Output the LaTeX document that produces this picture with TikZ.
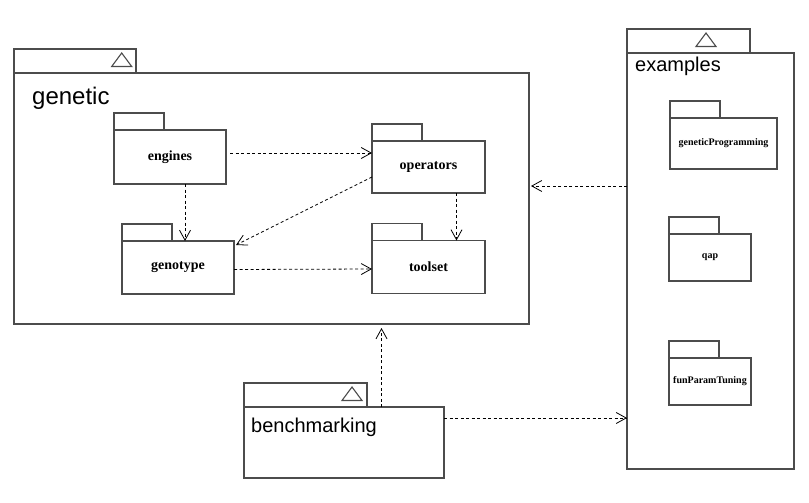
\documentclass[tikz,border=0pt]{standalone}
\usepackage{fontspec}
\setmainfont{Liberation Serif}
\newfontfamily\umlsans{Liberation Sans}
\usetikzlibrary{arrows.meta}

% triangle in the tab of a big package
\newcommand{\pkgmark}[2]{\draw[pkgline] (#1.south east) ++(#2-10,-6.5) -- ++(20,0) -- ++(-10,-13.5) -- cycle;}

\begin{document}
\begin{tikzpicture}[x=1pt,y=-1pt,>={Straight Barb[length=10pt,width=11pt]}]
		\tikzstyle{pkgline}=[draw=black!70,line width=1.1pt]
		\tikzstyle{pkg}=[pkgline,fill=none,outer sep=0pt,inner sep=0pt,font=\bfseries\fontsize{14}{16}\selectfont]
		\tikzstyle{smallpkg}=[pkg,font=\bfseries\fontsize{10}{12}\selectfont]
		\tikzstyle{tab}=[pkg,anchor=south west]
		\tikzstyle{pkgtitle}=[anchor=base west,inner sep=0pt,font=\umlsans]
		\tikzstyle{dep}=[->,draw=black,line width=0.8pt,dash pattern=on 3pt off 2.5pt]
		
		\useasboundingbox (0,0) rectangle (809,503);
		
		% genetic
		\node[pkg,minimum width=515,minimum height=251] (genetic) at (271.5,198.5) {};
		\node[tab,minimum width=122,minimum height=24] (genetictab) at (genetic.north west) {};
		\pkgmark{genetictab}{-14.3}
		\node[pkgtitle,font=\umlsans\fontsize{24}{28}\selectfont] (genetictitle) at (32,105) {genetic};
		
		\node[pkg,minimum width=112,minimum height=54] (engines) at (170,157) {engines};
		\node[tab,minimum width=50,minimum height=17] (enginestab) at (engines.north west) {};
		\node[pkg,minimum width=113,minimum height=52] (operators) at (428.5,167) {operators};
		\node[tab,minimum width=50,minimum height=17] (operatorstab) at (operators.north west) {};
		\node[pkg,minimum width=112,minimum height=53] (genotype) at (178,267.5) {genotype};
		\node[tab,minimum width=50,minimum height=17] (genotypetab) at (genotype.north west) {};
		\node[pkg,minimum width=113,minimum height=53] (toolset) at (428.5,267) {toolset};
		\node[tab,minimum width=50,minimum height=17] (toolsettab) at (toolset.north west) {};
		
		% examples
		\node[pkg,minimum width=167,minimum height=416] (examples) at (710.5,261) {};
		\node[tab,minimum width=123,minimum height=24] (examplestab) at (examples.north west) {};
		\pkgmark{examplestab}{-44}
		\node[pkgtitle,font=\umlsans\fontsize{20}{24}\selectfont] (examplestitle) at (635,72) {examples};
		
		\node[smallpkg,minimum width=107,minimum height=51] (geneticProgramming) at (723.5,143.5) {geneticProgramming};
		\node[tab,minimum width=50,minimum height=17] (geneticProgrammingtab) at (geneticProgramming.north west) {};
		\node[smallpkg,minimum width=82,minimum height=47] (qap) at (710,257.5) {qap};
		\node[tab,minimum width=50,minimum height=17] (qaptab) at (qap.north west) {};
		\node[smallpkg,minimum width=82,minimum height=47] (funParamTuning) at (710,381.5) {funParamTuning};
		\node[tab,minimum width=50,minimum height=17] (funParamTuningtab) at (funParamTuning.north west) {};
		
		% benchmarking
		\node[pkg,minimum width=200,minimum height=71] (benchmarking) at (344,442.5) {};
		\node[tab,minimum width=123,minimum height=24] (benchmarkingtab) at (benchmarking.north west) {};
		\pkgmark{benchmarkingtab}{-15}
		\node[pkgtitle,font=\umlsans\fontsize{20}{24}\selectfont] (benchmarkingtitle) at (251,432) {benchmarking};
		
		% dependencies
		\draw[dep] ([xshift=4pt,yshift=4pt]engines.east) -- ([yshift=14pt]operators.west);
		\draw[dep] ([xshift=15pt]engines.south) -- ([xshift=7pt]genotype.north);
		\draw[dep] ([yshift=-10pt]operators.west) -- ([xshift=2pt,yshift=-4pt]genotype.north east);
		\draw[dep] ([xshift=28pt]operators.south) -- ([xshift=28pt]toolset.north);
		\draw[dep] ([yshift=-2pt]genotype.east) -- ([yshift=-2pt]toolset.west);
		\draw[dep] ([yshift=75pt]examples.west) -- ([xshift=2pt,yshift=12.5pt]genetic.east);
		\draw[dep] ([xshift=37.5pt]benchmarking.north) -- ([xshift=110pt,yshift=-4pt]genetic.south);
		\draw[dep] ([yshift=24.5pt]benchmarking.east) -- ([yshift=-157pt]examples.west);
	\end{tikzpicture}
\end{document}
